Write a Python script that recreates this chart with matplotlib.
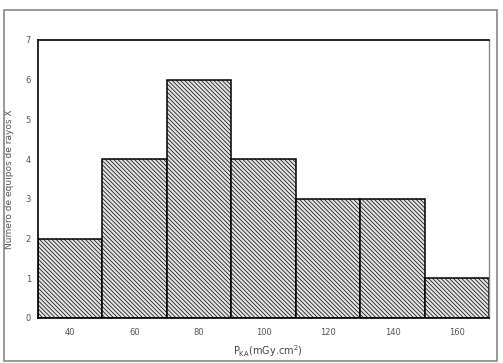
import matplotlib.pyplot as plt
from matplotlib.patches import Rectangle

# histogram bins (PKA, mGy.cm2) and counts
bin_edges = [30, 50, 70, 90, 110, 130, 150, 170]
counts = [2, 4, 6, 4, 3, 3, 1]
xticks = [40, 60, 80, 100, 120, 140, 160]
yticks = [0, 1, 2, 3, 4, 5, 6, 7]

plt.rcParams['hatch.color'] = '#6a6a6a'
plt.rcParams['hatch.linewidth'] = 0.5

fig = plt.figure(figsize=(5.03, 3.63), dpi=100)
ax = fig.add_axes([0.0755, 0.124, 0.897, 0.766])

widths = [bin_edges[i + 1] - bin_edges[i] for i in range(len(counts))]
ax.bar(bin_edges[:-1], counts, width=widths, align='edge',
       facecolor='#e2e2e2', edgecolor='black', linewidth=1.1,
       hatch='\\\\\\\\\\\\\\\\')

ax.set_xlim(30, 170)
ax.set_ylim(0, 7)
ax.set_xticks(xticks)
ax.set_yticks(yticks)
ax.tick_params(length=0, labelsize=6, colors='#555555')
ax.tick_params(axis='x', pad=7)
ax.tick_params(axis='y', pad=5)

for s in ['top', 'left', 'bottom']:
    ax.spines[s].set_color('black')
    ax.spines[s].set_linewidth(1.2)
ax.spines['right'].set_color('#888888')
ax.spines['right'].set_linewidth(1.0)

ax.set_xlabel(r'P$_{\mathrm{KA}}$(mGy.cm$^2$)', fontsize=7, color='#444444')
ax.xaxis.set_label_coords(0.51, -0.09)
ax.set_ylabel('Número de equipos de rayos X', fontsize=6.5, color='#555555')
ax.yaxis.set_label_coords(-0.053, 0.5)

# outer chart frame
fig.patches.append(Rectangle((4 / 503, 2 / 363), 493 / 503, 351 / 363,
                             transform=fig.transFigure, fill=False,
                             edgecolor='#888888', linewidth=1.2))

fig.savefig('out.png', dpi=100)
